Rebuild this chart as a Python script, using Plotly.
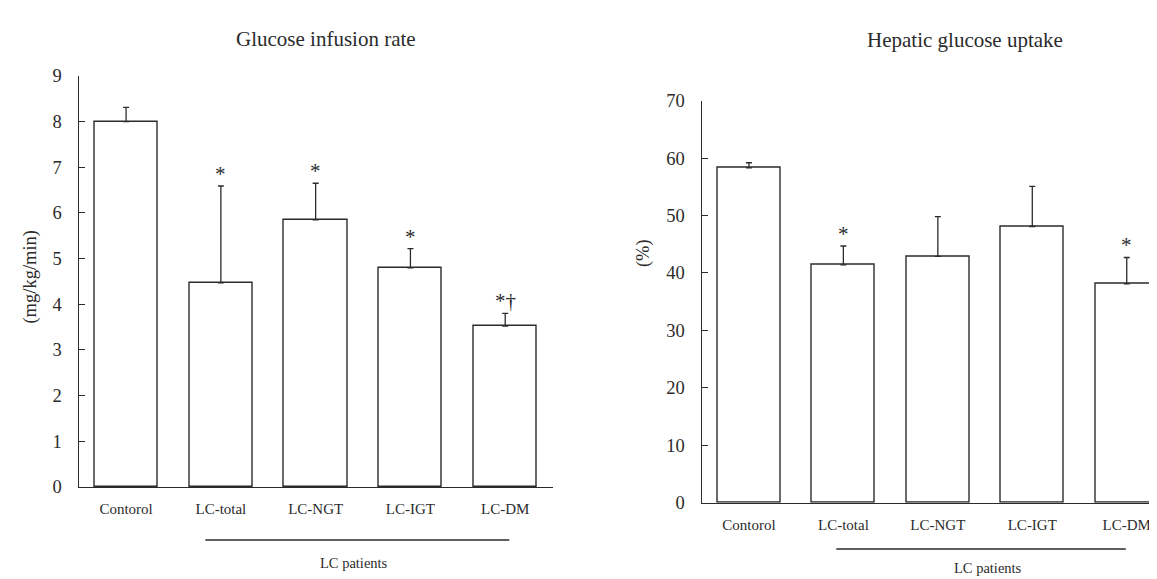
import plotly.graph_objects as go

categories = ["Contorol", "LC-total", "LC-NGT", "LC-IGT", "LC-DM"]

# Glucose infusion rate (mg/kg/min)
gir_mean = [8.0, 4.47, 5.85, 4.80, 3.52]
gir_sd = [0.31, 2.12, 0.80, 0.42, 0.28]
gir_marks = ["", "*", "*", "*", "*†"]

# Hepatic glucose uptake (%)
hgu_mean = [58.3, 41.4, 42.9, 48.1, 38.1]
hgu_sd = [0.9, 3.3, 6.9, 7.0, 4.6]
hgu_marks = ["", "*", "", "", "*"]

FONT = "Liberation Serif"
INK = "#2b2b2b"
W, H = 1157, 579

fig = go.Figure()

def add_bars(mean, sd, xa, ya):
    fig.add_trace(go.Bar(
        x=list(range(len(categories))), y=mean, width=0.666,
        marker=dict(color="white", line=dict(color=INK, width=1.4)),
        error_y=dict(type="data", symmetric=False, array=sd,
                     arrayminus=[0] * len(sd), color=INK, thickness=1.3, width=3),
        xaxis=xa, yaxis=ya, showlegend=False, hoverinfo="skip"))

add_bars(gir_mean, gir_sd, "x", "y")
add_bars(hgu_mean, hgu_sd, "x2", "y2")

axis_common = dict(showline=True, linecolor=INK, linewidth=1.4, showgrid=False,
                   zeroline=False, fixedrange=True)

fig.update_layout(
    width=W, height=H, margin=dict(l=0, r=0, t=0, b=0),
    paper_bgcolor="white", plot_bgcolor="white",
    font=dict(family=FONT, color=INK),
    showlegend=False,
    bargap=0,
    xaxis=dict(domain=[70.7 / W, 544.6 / W], range=[-0.5, 4.5], anchor="y",
               tickmode="array", tickvals=list(range(5)), ticktext=categories,
               ticks="", tickfont=dict(size=15, family=FONT, color=INK),
               ticklabelstandoff=8, **axis_common),
    yaxis=dict(domain=[(H - 485.7) / H, (H - 60) / H], range=[0, 9], anchor="x",
               tickmode="array", tickvals=list(range(10)),
               ticks="inside", ticklen=6, tickcolor=INK, tickwidth=1.4,
               tickfont=dict(size=18.5, family=FONT, color=INK),
               ticklabelstandoff=12, **axis_common),
    xaxis2=dict(domain=[693.7 / W, 1.0], range=[-0.5, 4.405], anchor="y2",
                tickmode="array", tickvals=list(range(5)), ticktext=categories,
                ticks="", tickfont=dict(size=15, family=FONT, color=INK),
                ticklabelstandoff=8, **axis_common),
    yaxis2=dict(domain=[(H - 502) / H, (H - 85.7) / H], range=[0, 70], anchor="x2",
                tickmode="array", tickvals=list(range(0, 71, 10)),
                ticks="inside", ticklen=6, tickcolor=INK, tickwidth=1.4,
                tickfont=dict(size=18.5, family=FONT, color=INK),
                ticklabelstandoff=12, **axis_common),
)

ann = []
def py(px):
    return (H - px) / H

# Titles
ann.append(dict(text="Glucose infusion rate", x=318.3 / W, y=py(21.7), xref="paper", yref="paper",
                showarrow=False, font=dict(size=21, family=FONT, color=INK), xanchor="center", yanchor="middle"))
ann.append(dict(text="Hepatic glucose uptake", x=957 / W, y=py(23.3), xref="paper", yref="paper",
                showarrow=False, font=dict(size=21, family=FONT, color=INK), xanchor="center", yanchor="middle"))
# Y titles
ann.append(dict(text="(mg/kg/min)", x=22.8 / W, y=py(268), xref="paper", yref="paper", textangle=-90,
                showarrow=False, font=dict(size=18.5, family=FONT, color=INK), xanchor="center", yanchor="middle"))
ann.append(dict(text="(%)", x=635 / W, y=py(243.5), xref="paper", yref="paper", textangle=-90,
                showarrow=False, font=dict(size=18.5, family=FONT, color=INK), xanchor="center", yanchor="middle"))

# Significance marks placed above error bars
for i, (m, s, t) in enumerate(zip(gir_mean, gir_sd, gir_marks)):
    if t:
        ann.append(dict(text=t, x=i, y=m + s, xref="x", yref="y", showarrow=False,
                        yanchor="middle", yshift=12, font=dict(size=21, family=FONT, color=INK)))
for i, (m, s, t) in enumerate(zip(hgu_mean, hgu_sd, hgu_marks)):
    if t:
        ann.append(dict(text=t, x=i, y=m + s, xref="x2", yref="y2", showarrow=False,
                        yanchor="middle", yshift=12, font=dict(size=21, family=FONT, color=INK)))

# "LC patients" group labels
ann.append(dict(text="LC patients", x=2.405, y=py(565), xref="x", yref="paper", showarrow=False,
                font=dict(size=14.5, family=FONT, color=INK), xanchor="center", yanchor="middle"))
ann.append(dict(text="LC patients", x=2.534, y=py(570), xref="x2", yref="paper", showarrow=False,
                font=dict(size=14.5, family=FONT, color=INK), xanchor="center", yanchor="middle"))

shapes = [
    dict(type="line", xref="x", yref="paper", x0=0.836, x1=4.043, y0=py(540.7), y1=py(540.7),
         line=dict(color=INK, width=1.3)),
    dict(type="line", xref="x2", yref="paper", x0=0.925, x1=3.99, y0=py(550), y1=py(550),
         line=dict(color=INK, width=1.3)),
]

fig.update_layout(annotations=ann, shapes=shapes)
fig.write_html("out.html")
